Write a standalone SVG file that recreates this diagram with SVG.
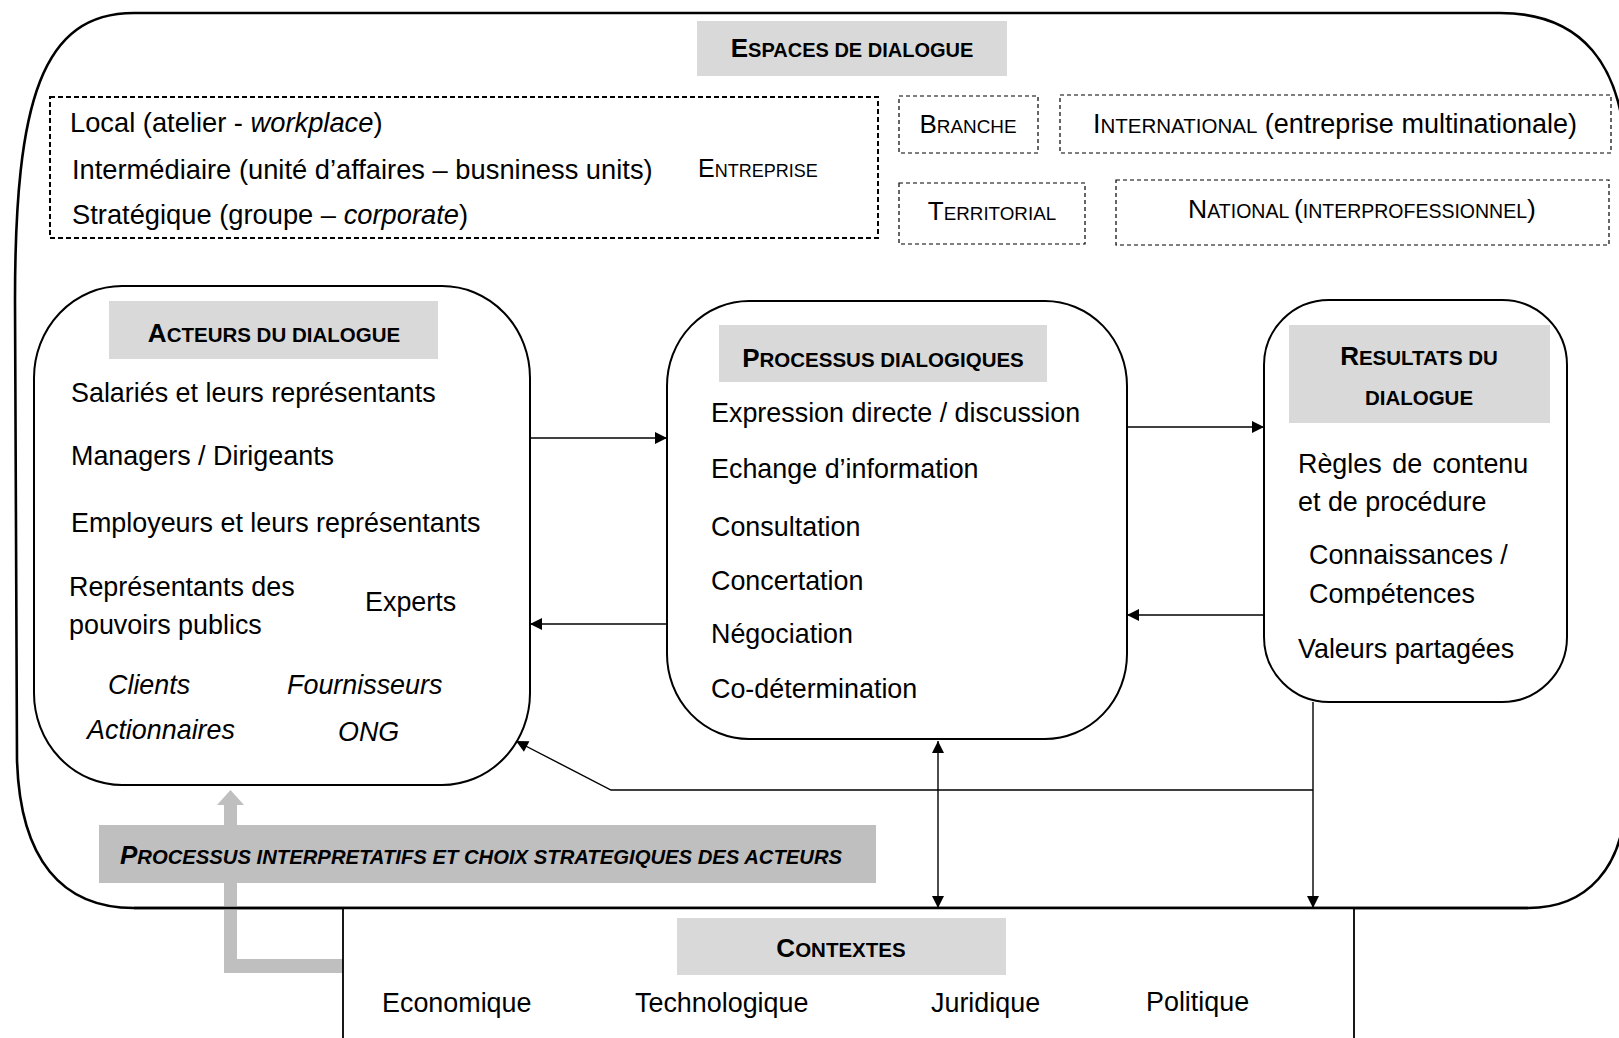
<svg xmlns="http://www.w3.org/2000/svg" width="1619" height="1038" viewBox="0 0 1619 1038">
<defs>
<style>
text{font-family:"Liberation Sans",Arial,sans-serif;fill:#000}
.b{font-size:26.9px}
.e{font-size:27.3px}
.h{font-weight:bold}
.node{fill:#fff;stroke:#000;stroke-width:2}
.hdrbox{fill:#d9d9d9}
.dash{fill:none;stroke:#000;stroke-width:1.2;stroke-dasharray:4 3}
.conn{fill:none;stroke:#000;stroke-width:1.4}
</style>
<marker id="ah" viewBox="0 0 10 10" refX="10" refY="5" markerWidth="14" markerHeight="12" markerUnits="userSpaceOnUse" orient="auto-start-reverse">
<path d="M0,0 L10,5 L0,10 z" fill="#000"/>
</marker>
<clipPath id="clipComp"><rect x="1260" y="520" width="300" height="85"/></clipPath>
</defs>
<rect width="1619" height="1038" fill="#fff"/>

<g id="espaces">
<path d="M134,13 H1500 C1578,13 1626,60 1626,170 V790 C1626,870 1585,908 1528,908 H134 C62,908 20,860 17,760 L15,300 C15,100 42,13 134,13 Z" fill="none" stroke="#000" stroke-width="2.6"/>
<rect class="hdrbox" x="697" y="21" width="310" height="55"/>
<text x="852" y="57" text-anchor="middle" class="h"><tspan font-size="26">E</tspan><tspan font-size="20">SPACES DE DIALOGUE</tspan></text>
</g>

<g id="entreprise">
<rect x="50" y="97" width="828" height="141" fill="none" stroke="#000" stroke-width="2" stroke-dasharray="5 3"/>
<text x="70" y="132" class="e">Local (atelier - <tspan font-style="italic">workplace</tspan>)</text>
<text x="72" y="179" class="e">Intermédiaire (unité d’affaires – busniness units)</text>
<text x="72" y="224" class="e">Stratégique (groupe – <tspan font-style="italic">corporate</tspan>)</text>
<text x="698" y="177"><tspan font-size="25">E</tspan><tspan font-size="18">NTREPRISE</tspan></text>
</g>

<g id="branche">
<rect class="dash" x="899" y="96" width="139" height="57"/>
<text x="968" y="133" text-anchor="middle"><tspan font-size="26">B</tspan><tspan font-size="18.9">RANCHE</tspan></text>
</g>
<g id="international">
<rect class="dash" x="1060" y="95" width="551" height="58"/>
<text x="1335" y="133" text-anchor="middle"><tspan font-size="27">I</tspan><tspan font-size="20.5">NTERNATIONAL</tspan><tspan font-size="27"> (entreprise multinationale)</tspan></text>
</g>
<g id="territorial">
<rect class="dash" x="899" y="183" width="186" height="61"/>
<text x="992" y="220" text-anchor="middle"><tspan font-size="26">T</tspan><tspan font-size="18.8">ERRITORIAL</tspan></text>
</g>
<g id="national">
<rect class="dash" x="1116" y="180" width="493" height="65"/>
<text x="1362" y="218" text-anchor="middle"><tspan font-size="26.5">N</tspan><tspan font-size="19.5">ATIONAL </tspan><tspan font-size="26.5">(</tspan><tspan font-size="19.5">INTERPROFESSIONNEL</tspan><tspan font-size="26.5">)</tspan></text>
</g>

<g id="acteurs">
<rect class="node" x="34" y="286" width="496" height="499" rx="88" ry="92"/>
<rect class="hdrbox" x="109" y="301" width="329" height="58"/>
<text x="274" y="342" text-anchor="middle" class="h"><tspan font-size="26">A</tspan><tspan font-size="20.5">CTEURS DU DIALOGUE</tspan></text>
<text x="71" y="402" class="b">Salariés et leurs représentants</text>
<text x="71" y="465" class="b">Managers / Dirigeants</text>
<text x="71" y="532" class="b">Employeurs et leurs représentants</text>
<text x="69" y="596" class="b">Représentants  des</text>
<text x="69" y="634" class="b">pouvoirs publics</text>
<text x="365" y="611" class="b">Experts</text>
<text x="108" y="694" class="b" font-style="italic">Clients</text>
<text x="287" y="694" class="b" font-style="italic">Fournisseurs</text>
<text x="87" y="739" class="b" font-style="italic">Actionnaires</text>
<text x="338" y="741" class="b" font-style="italic">ONG</text>
</g>

<g id="processus">
<rect class="node" x="667" y="301" width="460" height="438" rx="82" ry="85"/>
<rect class="hdrbox" x="719" y="325" width="328" height="57"/>
<text x="883" y="367" text-anchor="middle" class="h"><tspan font-size="26">P</tspan><tspan font-size="20.5">ROCESSUS DIALOGIQUES</tspan></text>
<text x="711" y="422" class="b">Expression directe / discussion</text>
<text x="711" y="478" class="b">Echange d’information</text>
<text x="711" y="536" class="b">Consultation</text>
<text x="711" y="590" class="b">Concertation</text>
<text x="711" y="643" class="b">Négociation</text>
<text x="711" y="698" class="b">Co-détermination</text>
</g>

<g id="resultats">
<rect class="node" x="1264" y="300" width="303" height="402" rx="65" ry="65"/>
<rect class="hdrbox" x="1289" y="325" width="261" height="98"/>
<text x="1419" y="365" text-anchor="middle" class="h"><tspan font-size="26">R</tspan><tspan font-size="20.5">ESULTATS DU</tspan></text>
<text x="1419" y="405" text-anchor="middle" class="h" font-size="20.5">DIALOGUE</text>
<text x="1298" y="473" class="b" word-spacing="3">Règles de contenu</text>
<text x="1298" y="511" class="b">et de procédure</text>
<text x="1309" y="564" class="b">Connaissances /</text>
<text x="1309" y="603" class="b" clip-path="url(#clipComp)">Compétences</text>
<text x="1298" y="658" class="b">Valeurs partagées</text>
</g>

<g id="connectors">
<line class="conn" x1="530" y1="438" x2="667" y2="438" marker-end="url(#ah)"/>
<line class="conn" x1="667" y1="624" x2="530" y2="624" marker-end="url(#ah)"/>
<line class="conn" x1="1127" y1="427" x2="1264" y2="427" marker-end="url(#ah)"/>
<line class="conn" x1="1264" y1="615" x2="1127" y2="615" marker-end="url(#ah)"/>
<line class="conn" x1="1313" y1="702" x2="1313" y2="908" marker-end="url(#ah)"/>
<polyline class="conn" points="1313,790 611,790 516,741" marker-end="url(#ah)"/>
<line class="conn" x1="938" y1="741" x2="938" y2="908" marker-start="url(#ah)" marker-end="url(#ah)"/>
</g>

<g id="interpretatifs">
<path d="M343,959 H237 V805 H244 L230.5,790 L217,805 H224 V973 H343 Z" fill="#bfbfbf"/>
<rect x="99" y="825" width="777" height="58" fill="#bfbfbf"/>
<text x="120" y="864" class="h" font-style="italic"><tspan font-size="26">P</tspan><tspan font-size="20.25">ROCESSUS INTERPRETATIFS ET CHOIX STRATEGIQUES DES ACTEURS</tspan></text>
</g>

<g id="contextes">
<path d="M343,1040 V908 H1354 V1040" fill="#fff" stroke="#000" stroke-width="1.8"/>
<line x1="134" y1="908" x2="1528" y2="908" stroke="#000" stroke-width="2.6"/>
<rect class="hdrbox" x="677" y="918" width="329" height="57"/>
<text x="841" y="957" text-anchor="middle" class="h"><tspan font-size="26">C</tspan><tspan font-size="20.5">ONTEXTES</tspan></text>
<text x="382" y="1012" class="b">Economique</text>
<text x="635" y="1012" class="b">Technologique</text>
<text x="931" y="1012" class="b">Juridique</text>
<text x="1146" y="1011" class="b">Politique</text>
</g>
</svg>
